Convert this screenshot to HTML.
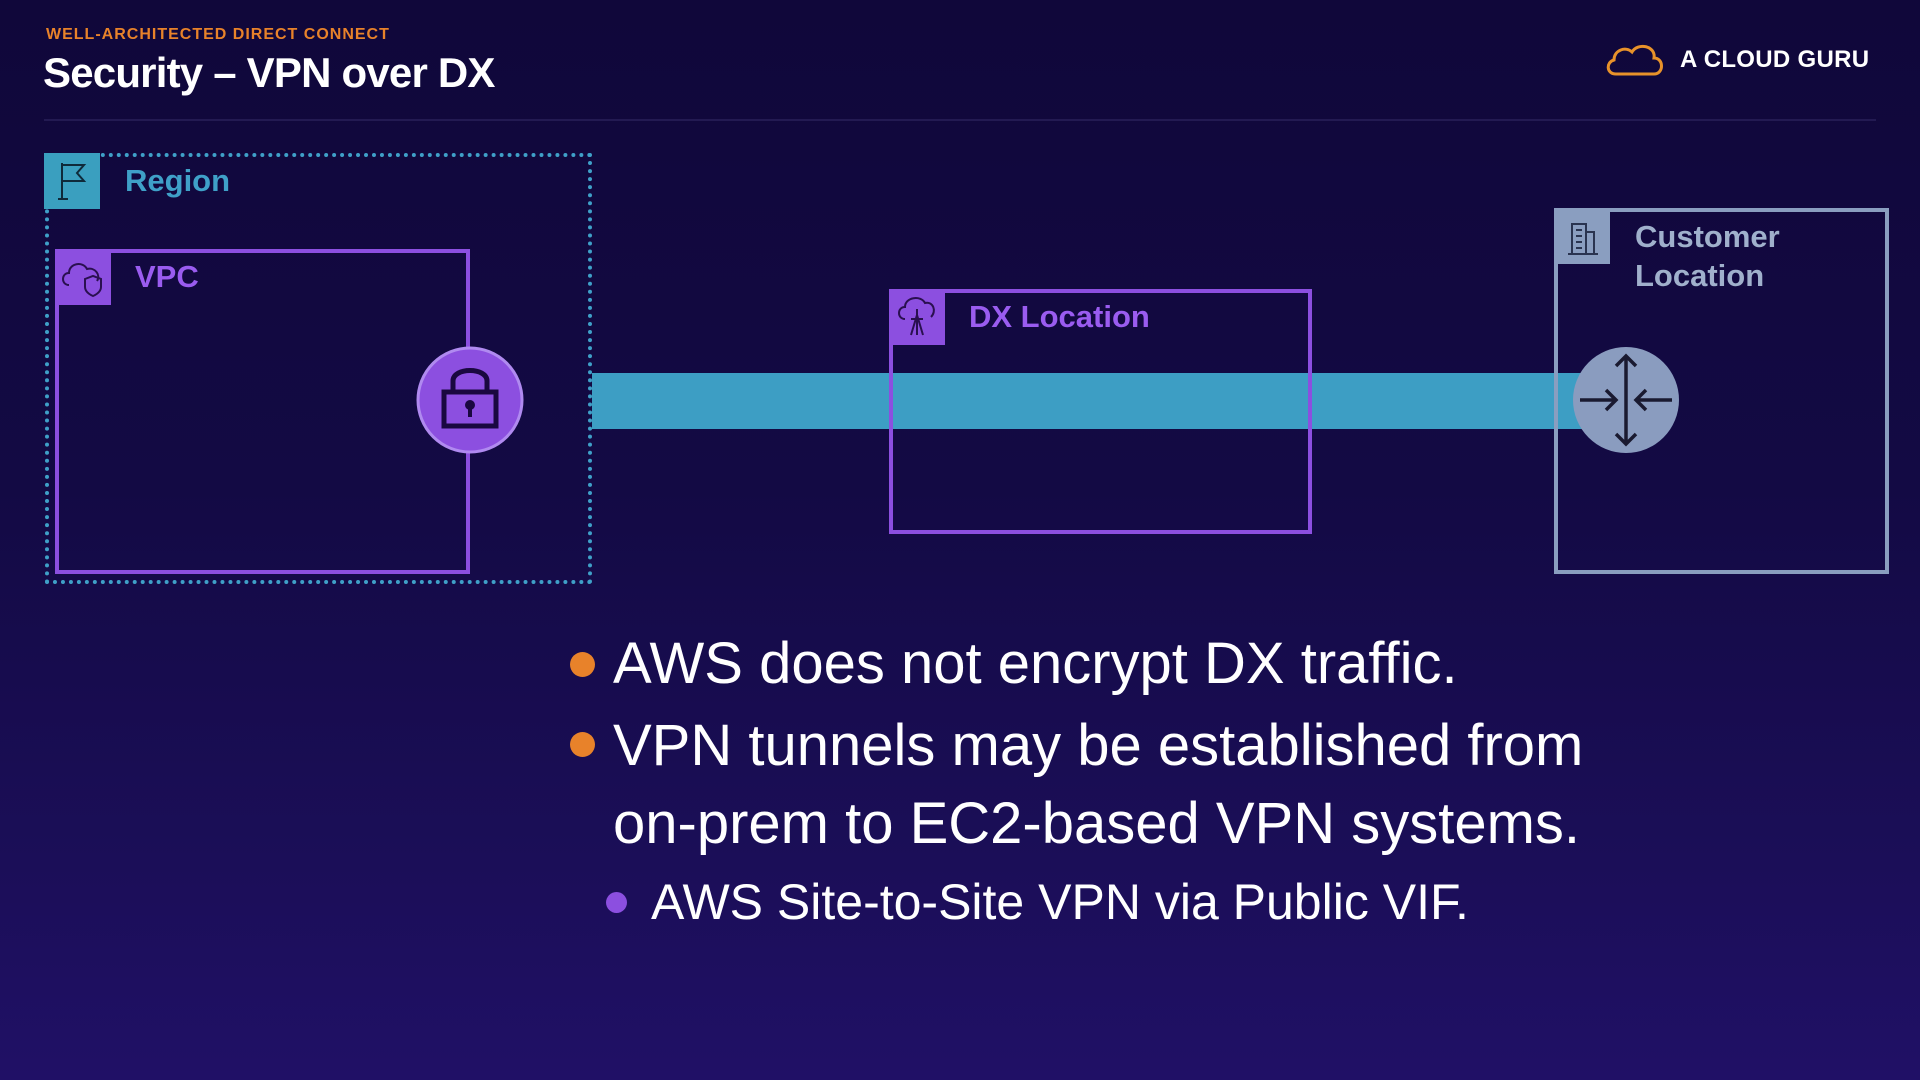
<!DOCTYPE html>
<html><head><meta charset="utf-8"><style>
*{margin:0;padding:0;box-sizing:border-box}
body{width:1920px;height:1080px;overflow:hidden;position:relative;font-family:"Liberation Sans",sans-serif;background:linear-gradient(180deg,#10073a 0%,#130a44 45%,#1b0e58 80%,#201066 100%)}
.a{position:absolute}
</style></head><body>
<div class="a" style="left:46px;top:26px;font-size:16px;font-weight:bold;color:#e8822a;letter-spacing:1px">WELL-ARCHITECTED DIRECT CONNECT</div>
<div class="a" style="left:43px;top:49px;font-size:42px;font-weight:bold;color:#fff;letter-spacing:-0.8px">Security – VPN over DX</div>
<svg class="a" style="left:1604px;top:40px" width="62" height="40" viewBox="0 0 62 40"><path d="M12 34 C2 34 2 22 10 20 C10 10 22 6 28 12 C34 2 52 6 50 18 C60 18 60 34 50 34 Z" fill="none" stroke="#e8922a" stroke-width="3"/></svg>
<div class="a" style="left:1680px;top:46px;font-size:24px;font-weight:bold;color:#fff;letter-spacing:0.3px">A CLOUD GURU</div>
<div class="a" style="left:44px;top:119px;width:1832px;height:2px;background:#231a52"></div>

<div class="a" style="left:45px;top:153px;width:547px;height:431px;border:4px dotted #3fa0c8"></div>
<div class="a" style="left:44px;top:153px;width:56px;height:56px;background:#3a9fbf"></div>
<svg class="a" style="left:44px;top:153px" width="56" height="56"><path d="M18 46 V10 M14 46 H24 M18 12 H40 L33 20 L40 28 H18" fill="none" stroke="#0f2a3a" stroke-width="2"/></svg>
<div class="a" style="left:125px;top:163px;font-size:31px;font-weight:bold;color:#3fa0c8">Region</div>

<div class="a" style="left:55px;top:249px;width:415px;height:325px;border:4px solid #8c4fe0"></div>
<div class="a" style="left:55px;top:249px;width:56px;height:56px;background:#8c4fe0"></div>
<svg class="a" style="left:55px;top:249px" width="56" height="56"><path d="M14 36 C6 36 6 24 14 24 C14 14 28 12 32 20 C40 18 46 26 42 32" fill="none" stroke="#2a1050" stroke-width="2"/><path d="M30 30 L38 27 L46 30 V38 C46 44 38 47 38 47 C38 47 30 44 30 38Z" fill="none" stroke="#2a1050" stroke-width="2"/></svg>
<div class="a" style="left:135px;top:259px;font-size:31px;font-weight:bold;color:#9a5cf0">VPC</div>

<div class="a" style="left:592px;top:373px;width:990px;height:56px;background:#3d9ec4"></div>

<svg class="a" style="left:415px;top:345px" width="110" height="110"><circle cx="55" cy="55" r="52" fill="#8c4fe0" stroke="#b08af0" stroke-width="3"/><rect x="29" y="47" width="52" height="34" fill="none" stroke="#1a0840" stroke-width="5"/><path d="M38 47 V36 C38 22 72 22 72 36 V47" fill="none" stroke="#1a0840" stroke-width="5"/><circle cx="55" cy="60" r="5" fill="#1a0840"/><rect x="53" y="60" width="4" height="12" fill="#1a0840"/></svg>

<div class="a" style="left:889px;top:289px;width:423px;height:245px;border:4px solid #8c4fe0"></div>
<div class="a" style="left:889px;top:289px;width:56px;height:56px;background:#8c4fe0"></div>
<svg class="a" style="left:889px;top:289px" width="56" height="56"><path d="M16 30 C8 30 8 18 16 18 C16 8 32 6 36 14 C44 12 48 22 42 28" fill="none" stroke="#2a1050" stroke-width="2"/><path d="M28 20 V46 M22 46 L28 26 L34 46 M22 30 H34" fill="none" stroke="#2a1050" stroke-width="2"/></svg>
<div class="a" style="left:969px;top:299px;font-size:31px;font-weight:bold;color:#9a5cf0">DX Location</div>

<div class="a" style="left:1554px;top:208px;width:335px;height:366px;border:4px solid #8a9ec0"></div>
<div class="a" style="left:1554px;top:208px;width:56px;height:56px;background:#8a9ec0"></div>
<svg class="a" style="left:1554px;top:208px" width="56" height="56"><path d="M18 46 V16 H32 V46 Z M32 24 H40 V46 H32 M14 46 H44 M22 22 H28 M22 28 H28 M22 34 H28 M22 40 H28" fill="none" stroke="#2a3450" stroke-width="2"/></svg>
<div class="a" style="left:1635px;top:217px;font-size:31px;font-weight:bold;color:#a0b0cc;line-height:39px">Customer<br>Location</div>

<svg class="a" style="left:1572px;top:346px" width="108" height="108"><circle cx="54" cy="54" r="53" fill="#8a9cbf"/><g fill="none" stroke="#1a1a30" stroke-width="3.5"><path d="M54 10 V98 M44 20 L54 10 L64 20 M44 88 L54 98 L64 88"/><path d="M8 54 H44 M34 44 L44 54 L34 64 M100 54 H64 M74 44 L64 54 L74 64"/></g></svg>

<div class="a" style="left:570px;top:652px;width:25px;height:25px;border-radius:50%;background:#e8822a"></div>
<div class="a" style="left:613px;top:630px;font-size:58px;color:#fff">AWS does not encrypt DX traffic.</div>
<div class="a" style="left:570px;top:732px;width:25px;height:25px;border-radius:50%;background:#e8822a"></div>
<div class="a" style="left:613px;top:707px;font-size:58px;color:#fff;line-height:78px">VPN tunnels may be established from<br>on-prem to EC2-based VPN systems.</div>
<div class="a" style="left:606px;top:892px;width:21px;height:21px;border-radius:50%;background:#8c4fe0"></div>
<div class="a" style="left:651px;top:873px;font-size:50px;color:#fff">AWS Site-to-Site VPN via Public VIF.</div>
</body></html>
